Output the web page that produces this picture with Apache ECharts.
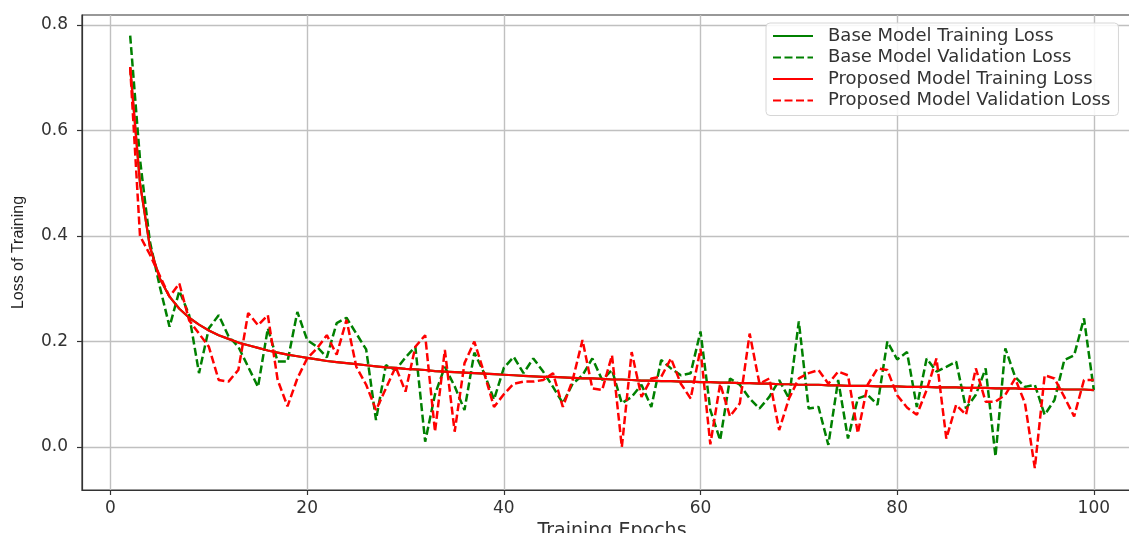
<!DOCTYPE html>
<html>
<head>
<meta charset="utf-8">
<script src="https://cdn.jsdelivr.net/npm/echarts@6/dist/echarts.min.js"></script>
<style>
  html, body { margin: 0; padding: 0; background: #fff; }
  #chart { width: 1129px; height: 533px; }
</style>
</head>
<body>
<div id="chart"></div>
<script>
// epochs 2..100
var epochs = [];
for (var e = 2; e <= 100; e++) epochs.push(e);

var propTrain = [
  0.72, 0.50, 0.38, 0.32, 0.285, 0.262, 0.245, 0.232, 0.221, 0.212,
  0.205, 0.198, 0.193, 0.188, 0.183, 0.179, 0.175, 0.172, 0.169, 0.166,
  0.163, 0.161, 0.159, 0.157, 0.155, 0.153, 0.151, 0.150, 0.148, 0.147,
  0.146, 0.144, 0.143, 0.142, 0.141, 0.140, 0.139, 0.138, 0.137, 0.136,
  0.135, 0.134, 0.133, 0.133, 0.132, 0.131, 0.130, 0.130, 0.129, 0.128,
  0.128, 0.127, 0.126, 0.126, 0.125, 0.125, 0.124, 0.124, 0.123, 0.123,
  0.122, 0.122, 0.121, 0.121, 0.120, 0.120, 0.119, 0.119, 0.118, 0.118,
  0.118, 0.117, 0.117, 0.116, 0.116, 0.116, 0.115, 0.115, 0.115, 0.114,
  0.114, 0.114, 0.113, 0.113, 0.113, 0.112, 0.112, 0.112, 0.111, 0.111,
  0.111, 0.110, 0.110, 0.110, 0.110, 0.109, 0.109, 0.109, 0.108
];

// base training curve is hidden under the red one in the picture
var baseTrain = propTrain.slice();

var baseVal = [
  0.78, 0.545, 0.39, 0.305, 0.228, 0.296, 0.25, 0.14, 0.225, 0.25,
  0.21, 0.19, 0.152, 0.114, 0.225, 0.162, 0.162, 0.256, 0.203, 0.19,
  0.17, 0.235, 0.245, 0.215, 0.185, 0.051, 0.155, 0.146, 0.17, 0.19,
  0.01, 0.10, 0.152, 0.115, 0.07, 0.179, 0.14, 0.09, 0.15, 0.171,
  0.14, 0.168, 0.143, 0.114, 0.083, 0.12, 0.136, 0.168, 0.127, 0.146,
  0.083, 0.095, 0.118, 0.076, 0.165, 0.149, 0.136, 0.14, 0.219, 0.07,
  0.013, 0.13, 0.118, 0.092, 0.073, 0.095, 0.127, 0.092, 0.238, 0.073,
  0.076, 0.004, 0.127, 0.016, 0.092, 0.099, 0.08, 0.2, 0.166, 0.18,
  0.076, 0.168, 0.143, 0.152, 0.162, 0.073, 0.099, 0.149, -0.018, 0.187,
  0.133, 0.114, 0.118, 0.061, 0.089, 0.165, 0.174, 0.244, 0.108
];

var propVal = [
  0.72, 0.40, 0.365, 0.325, 0.285, 0.31, 0.24, 0.215, 0.19, 0.127,
  0.124, 0.146, 0.254, 0.231, 0.25, 0.127, 0.077, 0.13, 0.168, 0.187,
  0.212, 0.175, 0.241, 0.152, 0.118, 0.07, 0.111, 0.152, 0.105, 0.19,
  0.212, 0.029, 0.184, 0.029, 0.159, 0.2, 0.14, 0.076, 0.10, 0.12,
  0.124, 0.124, 0.127, 0.14, 0.076, 0.127, 0.203, 0.111, 0.108, 0.174,
  0.0, 0.18, 0.095, 0.13, 0.133, 0.168, 0.12, 0.092, 0.186, 0.005,
  0.12, 0.058, 0.083, 0.215, 0.12, 0.13, 0.032, 0.092, 0.13, 0.14,
  0.146, 0.12, 0.143, 0.136, 0.026, 0.118, 0.149, 0.146, 0.098, 0.075,
  0.061, 0.108, 0.168, 0.016, 0.08, 0.061, 0.149, 0.086, 0.086, 0.099,
  0.13, 0.083, -0.04, 0.136, 0.13, 0.095, 0.058, 0.127, 0.127
];

var xTicks = [0, 20, 40, 60, 80, 100];
var yTicks = [0.0, 0.2, 0.4, 0.6, 0.8];

var seriesNames = [
  'Base Model Training Loss',
  'Base Model Validation Loss',
  'Proposed Model Training Loss',
  'Proposed Model Validation Loss'
];

function pairs(vals) {
  return epochs.map(function (x, i) { return [x, vals[i]]; });
}

var dash = [8, 3.5];
var font = 'DejaVu Sans';

var myChart = echarts.init(document.getElementById('chart'), null, { renderer: 'canvas' });
var option = {
  animation: false,
  grid: {
    left: 82, top: 15, width: 1060, height: 475,
    outerBoundsMode: 'none', containLabel: false,
    show: true, borderColor: '#333', borderWidth: 1.2
  },
  legend: {
    orient: 'vertical',
    left: 766, top: 23,
    itemWidth: 40, itemHeight: 14, itemGap: 3.5,
    padding: [4, 8, 6, 6],
    backgroundColor: 'rgba(255,255,255,0.85)',
    borderColor: '#d6d6d6', borderWidth: 1, borderRadius: 4,
    itemStyle: { opacity: 0 },
    textStyle: { fontFamily: font, fontSize: 18, color: '#333', padding: [0, 0, 0, 10] },
    data: seriesNames
  },
  xAxis: {
    type: 'value', min: -2.9, max: 104.9,
    name: 'Training Epochs', nameLocation: 'middle', nameGap: 29,
    nameTextStyle: { fontFamily: font, fontSize: 19, color: '#333' },
    axisLine: { show: true, onZero: false, lineStyle: { color: '#333', width: 1.2 } },
    axisTick: { show: true, customValues: xTicks, length: 5, lineStyle: { color: '#333', width: 1.2 } },
    axisLabel: { customValues: xTicks, fontFamily: font, fontSize: 17, color: '#333', margin: 10 },
    splitLine: { show: true, lineStyle: { color: '#c0c0c0', width: 1.4 } }
  },
  yAxis: {
    type: 'value', min: -0.0815, max: 0.819,
    name: 'Loss of Training', nameLocation: 'middle', nameGap: 55,
    nameTextStyle: { fontFamily: 'Liberation Sans', fontSize: 16, color: '#222' },
    axisLine: { show: true, onZero: false, lineStyle: { color: '#333', width: 1.2 } },
    axisTick: { show: true, customValues: yTicks, length: 5, lineStyle: { color: '#333', width: 1.2 } },
    axisLabel: {
      customValues: yTicks, fontFamily: font, fontSize: 17, color: '#333', margin: 14,
      formatter: function (v) { return v.toFixed(1); }
    },
    splitLine: { show: true, lineStyle: { color: '#c0c0c0', width: 1.4 } }
  },
  series: [
    {
      name: seriesNames[0], type: 'line', data: pairs(baseTrain),
      showSymbol: false, symbol: 'none', color: '#008000',
      lineStyle: { color: '#008000', width: 2.2 }
    },
    {
      name: seriesNames[1], type: 'line', data: pairs(baseVal),
      showSymbol: false, symbol: 'none', color: '#008000',
      lineStyle: { color: '#008000', width: 2.5, type: dash }
    },
    {
      name: seriesNames[2], type: 'line', data: pairs(propTrain),
      showSymbol: false, symbol: 'none', color: '#ff0000',
      lineStyle: { color: '#ff0000', width: 2.2 }
    },
    {
      name: seriesNames[3], type: 'line', data: pairs(propVal),
      showSymbol: false, symbol: 'none', color: '#ff0000',
      lineStyle: { color: '#ff0000', width: 2.5, type: dash }
    }
  ]
};
myChart.setOption(option);
</script>
</body>
</html>
